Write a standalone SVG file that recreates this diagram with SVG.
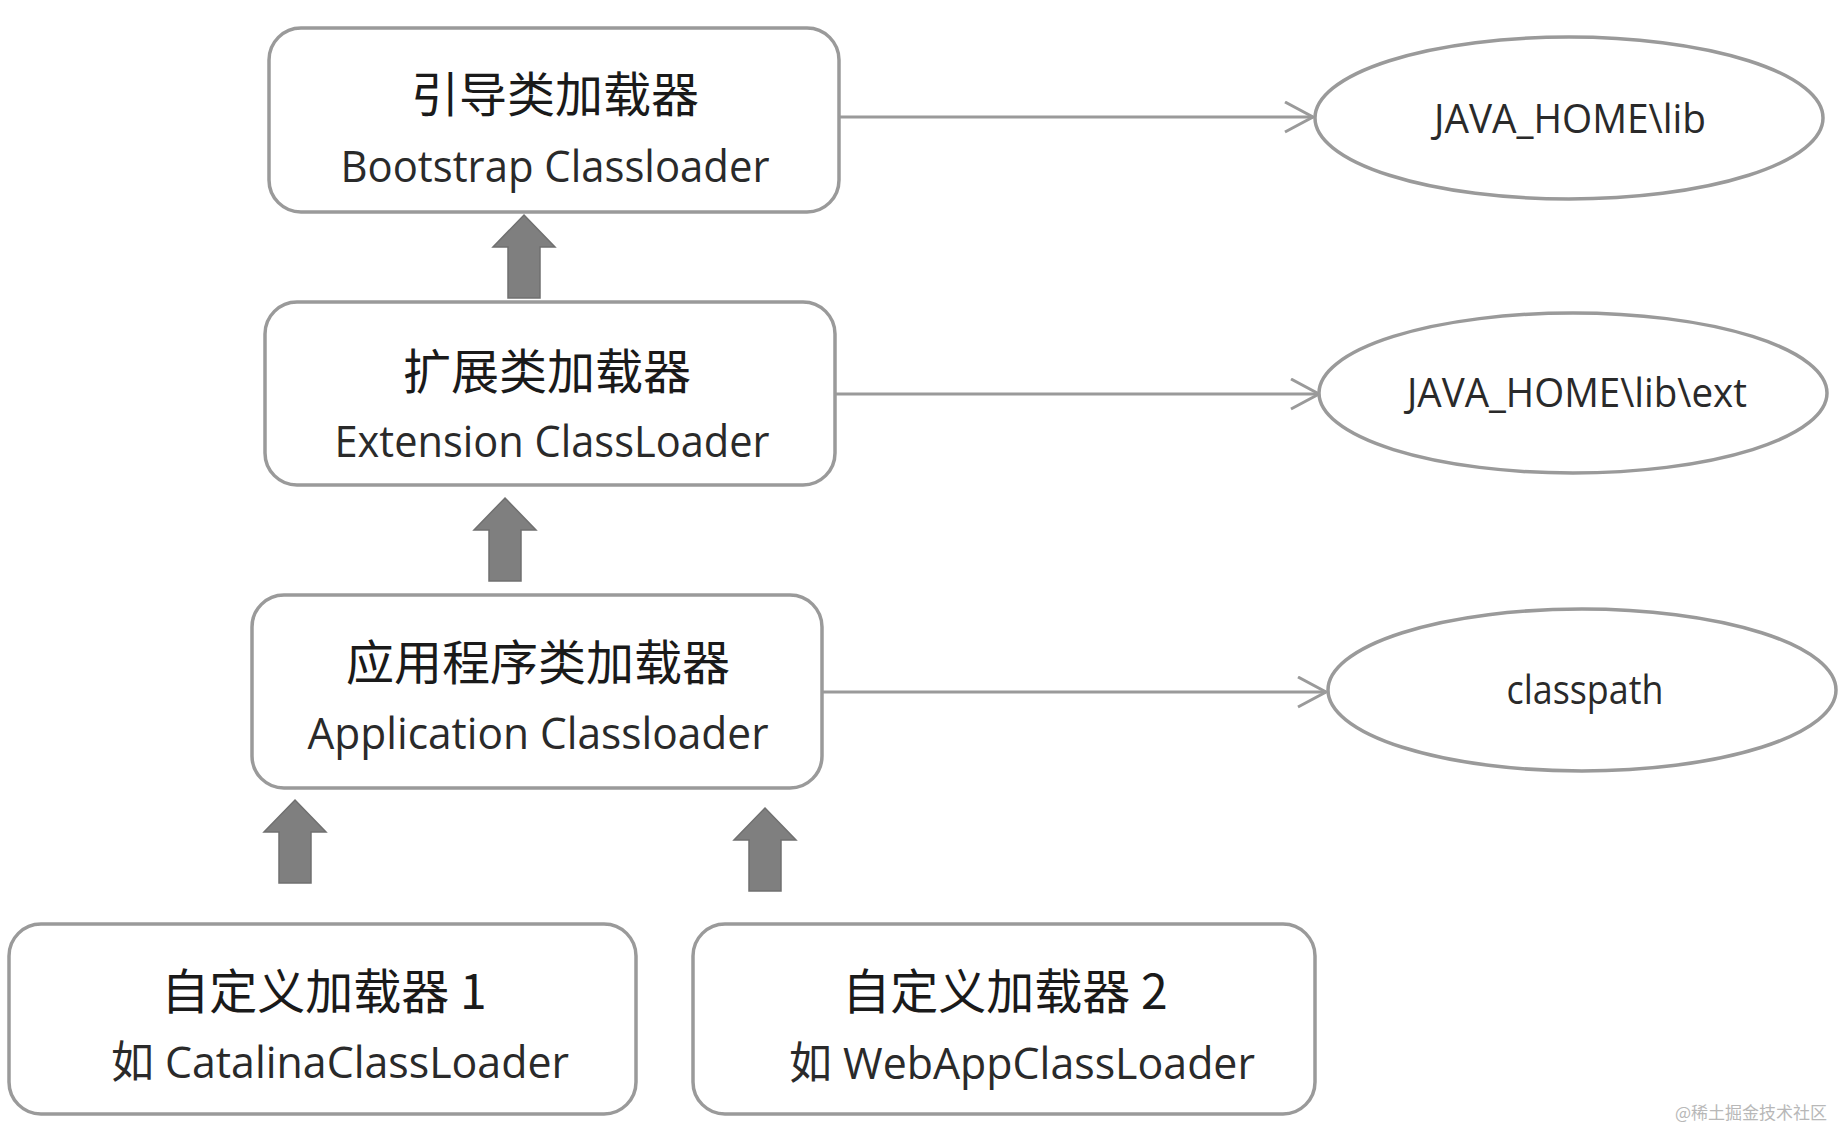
<svg xmlns="http://www.w3.org/2000/svg" xmlns:xlink="http://www.w3.org/1999/xlink" width="1841" height="1129" viewBox="0 0 1841 1129">
<style>
.box{fill:#fff;stroke:#9a9a9a;stroke-width:3.5}
.ell{fill:#fff;stroke:#9a9a9a;stroke-width:3.5}
.cn{font-family:"Noto Sans CJK SC","Open Sans",sans-serif;font-size:48px;fill:#1a1a1a;text-anchor:middle}
.lt{font-family:"Open Sans","Noto Sans CJK SC",sans-serif;font-size:44px;fill:#2a2a2a;text-anchor:middle}
.et{font-family:"Open Sans",sans-serif;font-size:40px;fill:#2a2a2a;text-anchor:middle}
.link{fill:none;stroke:#9a9a9a;stroke-width:3}
.blk{fill:#7f7f7f;stroke:#707070;stroke-width:1.5}
.wm{font-family:"Noto Sans CJK SC",sans-serif;font-size:17px;fill:#b8b8b8}
</style>
<defs>
<marker id="open" markerUnits="userSpaceOnUse" markerWidth="34" markerHeight="36" refX="29" refY="16" orient="auto">
<path d="M1,1 L29,16 L1,31" fill="none" stroke="#9a9a9a" stroke-width="3"/>
</marker>
<path id="bigArrow" d="M0,0 L31,32 L16,32 L16,83 L-16,83 L-16,32 L-31,32 Z"/>
</defs>
<rect width="1841" height="1129" fill="#fff"/>

<g id="connectors">
<line class="link" x1="839" y1="117" x2="1313" y2="117" marker-end="url(#open)"/>
<line class="link" x1="835" y1="394" x2="1319" y2="394" marker-end="url(#open)"/>
<line class="link" x1="821" y1="692" x2="1326" y2="692" marker-end="url(#open)"/>
<use xlink:href="#bigArrow" href="#bigArrow" class="blk" transform="translate(524,215)"/>
<use xlink:href="#bigArrow" href="#bigArrow" class="blk" transform="translate(505,498)"/>
<use xlink:href="#bigArrow" href="#bigArrow" class="blk" transform="translate(295,800)"/>
<use xlink:href="#bigArrow" href="#bigArrow" class="blk" transform="translate(765,808)"/>
</g>

<g id="bootstrap">
<rect class="box" x="269" y="28" width="570" height="184" rx="32" ry="32"/>
<text class="cn" x="555" y="112">引导类加载器</text>
<text class="lt" x="555" y="182" textLength="429" lengthAdjust="spacingAndGlyphs">Bootstrap Classloader</text>
</g>

<g id="extension">
<rect class="box" x="265" y="302" width="570" height="183" rx="32" ry="32"/>
<text class="cn" x="547" y="389">扩展类加载器</text>
<text class="lt" x="552" y="457" textLength="435" lengthAdjust="spacingAndGlyphs">Extension ClassLoader</text>
</g>

<g id="application">
<rect class="box" x="252" y="595" width="570" height="193" rx="32" ry="32"/>
<text class="cn" x="538" y="680">应用程序类加载器</text>
<text class="lt" x="538" y="749" textLength="461" lengthAdjust="spacingAndGlyphs">Application Classloader</text>
</g>

<g id="custom1">
<rect class="box" x="9" y="924" width="627" height="190" rx="32" ry="32"/>
<text class="cn" x="324" y="1009">自定义加载器 1</text>
<text class="lt" x="340" y="1078" textLength="458" lengthAdjust="spacingAndGlyphs">如 CatalinaClassLoader</text>
</g>

<g id="custom2">
<rect class="box" x="693" y="924" width="622" height="190" rx="32" ry="32"/>
<text class="cn" x="1005" y="1009">自定义加载器 2</text>
<text class="lt" x="1022" y="1079" textLength="466" lengthAdjust="spacingAndGlyphs">如 WebAppClassLoader</text>
</g>

<g id="lib">
<ellipse class="ell" cx="1569" cy="118" rx="254" ry="81"/>
<text class="et" x="1570" y="133" textLength="272" lengthAdjust="spacingAndGlyphs">JAVA_HOME\lib</text>
</g>

<g id="ext">
<ellipse class="ell" cx="1573" cy="393" rx="254" ry="80"/>
<text class="et" x="1577" y="407" textLength="340" lengthAdjust="spacingAndGlyphs">JAVA_HOME\lib\ext</text>
</g>

<g id="classpath">
<ellipse class="ell" cx="1582" cy="690" rx="254" ry="81"/>
<text class="et" x="1585" y="704" textLength="157" lengthAdjust="spacingAndGlyphs">classpath</text>
</g>

<text class="wm" x="1675" y="1119">@稀土掘金技术社区</text>
</svg>
